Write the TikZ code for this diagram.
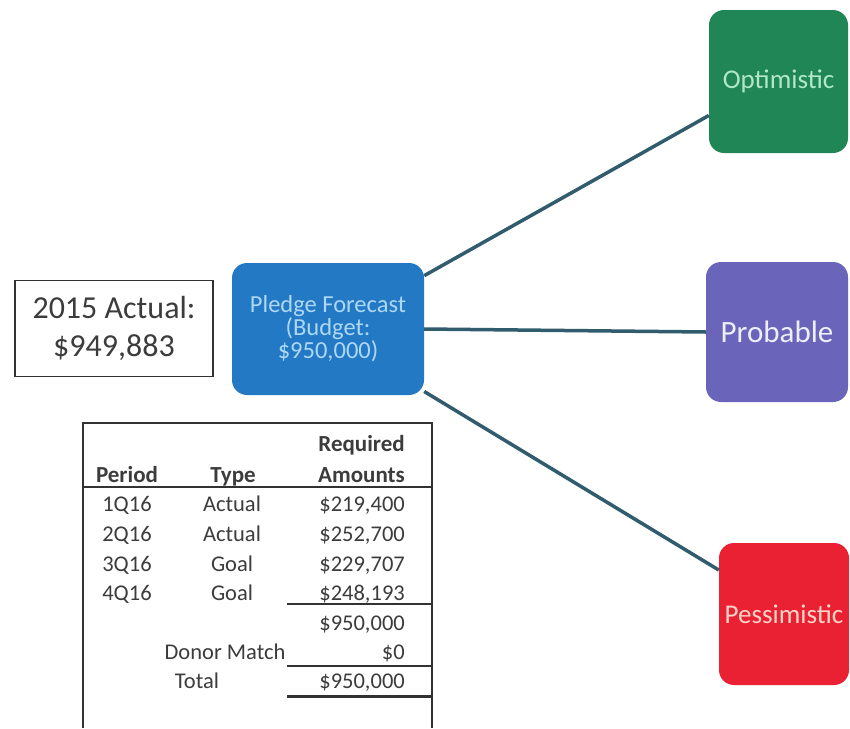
\documentclass[tikz,border=0pt]{standalone}
\usepackage{fontspec}
\setmainfont{Carlito}
\definecolor{optg}{RGB}{33,134,86}
\definecolor{optt}{RGB}{175,232,195}
\definecolor{probc}{RGB}{106,100,186}
\definecolor{probt}{RGB}{238,238,252}
\definecolor{pessc}{RGB}{233,33,50}
\definecolor{pesst}{RGB}{252,212,200}
\definecolor{pledc}{RGB}{36,121,196}
\definecolor{pledt}{RGB}{172,216,246}
\definecolor{conn}{RGB}{48,92,110}
\definecolor{tline}{RGB}{50,50,50}
\definecolor{ttext}{RGB}{60,60,60}
\tikzset{
  rbox/.style={draw=none, rounded corners=15pt, inner sep=0pt, align=center},
  link/.style={draw=conn, line width=3.5pt},
  tcell/.style={inner sep=0pt, text=ttext, font=\fontsize{22.5}{22}\selectfont},
  thead/.style={tcell, font=\fontsize{23}{22}\selectfont\bfseries},
  tl/.style={draw=tline, line width=1.8pt}
}
\begin{document}
\begin{tikzpicture}[x=1pt,y=-1pt]
\useasboundingbox[fill=white] (0,0) rectangle (850,728);

% scenario boxes
\node[rbox, fill=optg, minimum width=139pt, minimum height=143pt,
      font=\fontsize{27}{27}\selectfont, text=optt] (opt) at (778.5,81.5) {Optimistic};
\node[rbox, fill=probc, minimum width=142pt, minimum height=140pt,
      font=\fontsize{31}{31}\selectfont, text=probt] (prob) at (777,332) {Probable};
\node[rbox, fill=pessc, minimum width=130pt, minimum height=142pt,
      font=\fontsize{27}{27}\selectfont, text=pesst] (pess) at (784,614) {Pessimistic};

% central box
\node[rbox, fill=pledc, minimum width=192pt, minimum height=132pt,
      font=\fontsize{24.5}{22}\selectfont, text=pledt] (pled) at (328,329)
      {Pledge Forecast\\(Budget:\\\$950,000)};

% 2015 actual
\node[draw=tline, line width=1.8pt, inner sep=0pt, minimum width=198pt, minimum height=96pt,
      align=center, font=\fontsize{32}{38}\selectfont, text=ttext] (act) at (114,328.5)
      {2015 Actual:\\\$949,883};

% connectors
\draw[link] (pled.29) -- (opt.206);
\draw[link] (pled.east) -- (prob.west);
\draw[link] (pled.-33) -- (pess.146);

% table frame
\coordinate (tbl) at (83,423);
\draw[tl] (83,728) -- (tbl) -- (432,423) -- (432,728);
\draw[tl] (83,487) -- (432,487);
\draw[tl] (287,604) -- (432,604);
\draw[tl] (287,666) -- (432,666);
\draw[draw=tline, line width=3pt] (287,696) -- (432,696);

% header
\node[thead, anchor=base east] (hreq) at (405,451) {Required};
\node[thead, anchor=base] (hper) at (127,482) {Period};
\node[thead, anchor=base] (htyp) at (233,482) {Type};
\node[thead, anchor=base east] (hamt) at (405,482) {Amounts};

% rows
\node[tcell, anchor=base] (p1) at (127,511) {1Q16};
\node[tcell, anchor=base] (t1) at (232,511) {Actual};
\node[tcell, anchor=base east] (a1) at (405,511) {\$219,400};
\node[tcell, anchor=base] (p2) at (127,541) {2Q16};
\node[tcell, anchor=base] (t2) at (232,541) {Actual};
\node[tcell, anchor=base east] (a2) at (405,541) {\$252,700};
\node[tcell, anchor=base] (p3) at (127,571) {3Q16};
\node[tcell, anchor=base] (t3) at (232,571) {Goal};
\node[tcell, anchor=base east] (a3) at (405,571) {\$229,707};
\node[tcell, anchor=base] (p4) at (127,600) {4Q16};
\node[tcell, anchor=base] (t4) at (232,600) {Goal};
\node[tcell, anchor=base east] (a4) at (405,600) {\$248,193};
\node[tcell, anchor=base east] (sub) at (405,630) {\$950,000};
\node[tcell, anchor=base] (dm) at (225,659) {Donor Match};
\node[tcell, anchor=base east] (dmv) at (405,659) {\$0};
\node[tcell, anchor=base] (tot) at (197,688) {Total};
\node[tcell, anchor=base east] (totv) at (405,688) {\$950,000};
\end{tikzpicture}
\end{document}
